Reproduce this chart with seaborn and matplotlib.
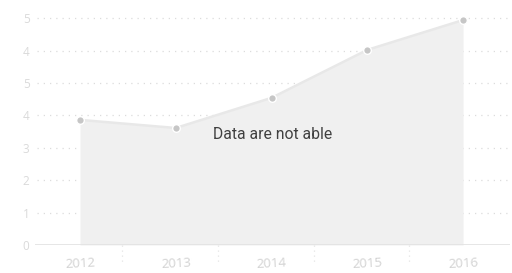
import numpy as np
import pandas as pd
import seaborn as sns
import matplotlib.pyplot as plt

# данные
years = [2012, 2013, 2014, 2015, 2016]
values = [3.86, 3.61, 4.54, 6.02, 6.94]
ytick_pos = [0, 1, 2, 3, 4, 5, 6, 7]
ytick_labels = ['0', '1', '2', '3', '4', '5', '4', '5']
message = 'Data are not able'

df = pd.DataFrame({'year': years, 'value': values})

sns.set_style('white')
plt.rcParams['font.family'] = ['Open Sans', 'DejaVu Sans']

fig = plt.figure(figsize=(5.12, 2.73), dpi=100)
ax = fig.add_axes([35 / 512, 28 / 273, 475 / 512, 235 / 273])

# область и линия
ax.fill_between(df['year'], df['value'], 0, color='#f0f0f0', linewidth=0, zorder=1)
sns.lineplot(data=df, x='year', y='value', ax=ax, color='#e8e8e8', linewidth=1.8,
             marker='o', markersize=5.5, markerfacecolor='#c6c6c6',
             markeredgecolor='white', markeredgewidth=1.0, zorder=3)

ax.set_xlim(2011.53, 2016.49)
ax.set_ylim(0, 7.25)

# сетка
for y in ytick_pos[1:]:
    ax.axhline(y, xmin=0.005, xmax=1, color='#dcdcdc', linestyle=(0, (1, 4)),
               linewidth=0.9, zorder=0)
ax.axhline(0, color='#e2e2e2', linewidth=1.2, zorder=2)

# разделители под осью
for a, b in zip(years[:-1], years[1:]):
    m = (a + b) / 2 - 0.06
    ax.plot([m, m], [0, -0.62], color='#e4e4e4', linestyle=(0, (1, 3)),
            linewidth=0.9, clip_on=False)

ax.set_yticks(ytick_pos)
ax.set_yticklabels(ytick_labels)
ax.set_xticks(years)
ax.set_xticklabels([str(y) for y in years], rotation=3)
ax.tick_params(axis='y', length=0, pad=4, labelsize=8.5, labelcolor='#dadada')
ax.tick_params(axis='x', length=0, pad=8, labelsize=9.5, labelcolor='#d2d2d2')
ax.set_xlabel('')
ax.set_ylabel('')
sns.despine(ax=ax, left=True, bottom=True)

ax.text(0.50, 0.47, message, transform=ax.transAxes, ha='center', va='center',
        fontsize=11.3, color='#404040', family=['Roboto', 'DejaVu Sans'], zorder=5)

fig.savefig('out.png', dpi=100)
